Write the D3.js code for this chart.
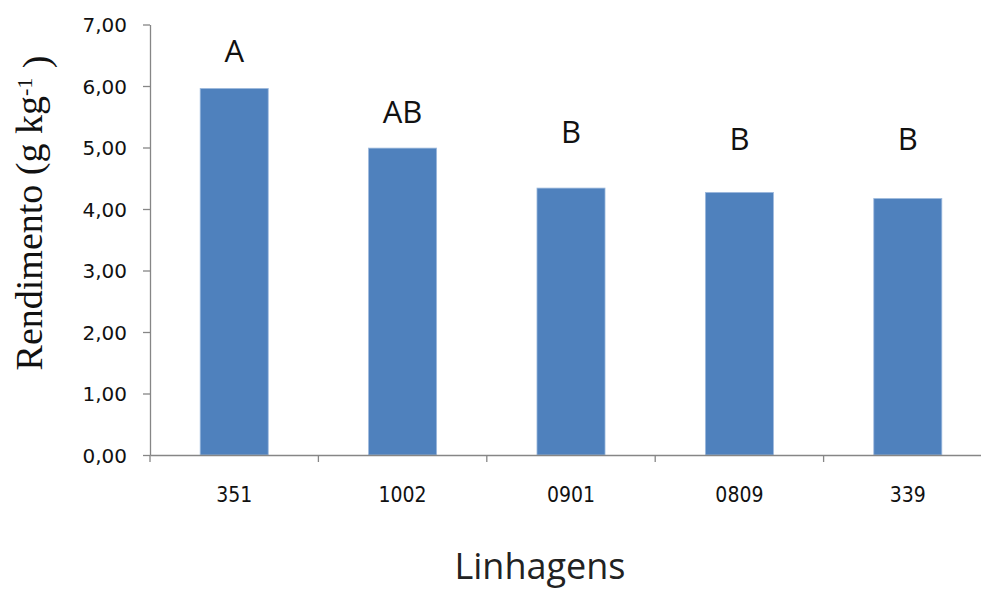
<!DOCTYPE html>
<html><head><meta charset="utf-8">
<script src="https://cdn.jsdelivr.net/npm/d3@7"></script>
<style>body{margin:0;background:#fff}</style>
</head><body>
<svg id="c" width="981" height="589"></svg>
<script>
const categories = ["351", "1002", "0901", "0809", "339"];
const values = [5.96, 4.99, 4.34, 4.27, 4.17];
const letters = ["A", "AB", "B", "B", "B"];
const letterLevel = [6.39, 5.40, 5.07, 4.96, 4.96];
const yTicks = [0, 1, 2, 3, 4, 5, 6, 7];

const svg = d3.select("#c");
const x = d3.scaleBand().domain(categories).range([150, 992]).paddingInner(0.596).paddingOuter(0.298);
const y = d3.scaleLinear().domain([0, 7]).range([455, 24.5]);
const fmt = v => d3.format(".2f")(v).replace(".", ",");

// bars
svg.append("g").selectAll("rect").data(categories).join("rect")
  .attr("x", d => x(d)).attr("width", x.bandwidth())
  .attr("y", (d, i) => y(values[i])).attr("height", (d, i) => y(0) - y(values[i]))
  .attr("fill", "#4F81BD").attr("stroke", "#9DB9DD").attr("stroke-width", 0.8);

// y axis
const ya = svg.append("g").attr("transform", "translate(150,0)")
  .call(d3.axisLeft(y).tickValues(yTicks).tickFormat(fmt).tickSize(7).tickSizeOuter(0));
ya.select(".domain").attr("stroke", "#868686").attr("stroke-width", 1.3);
ya.selectAll(".tick line").attr("stroke", "#868686").attr("stroke-width", 1.3);
ya.selectAll(".tick text").attr("x", -23).attr("dy", "0.36em")
  .style("font-family", "'DejaVu Sans'").style("font-size", "20px").attr("fill", "#111");

// x axis
const xa = svg.append("g").attr("transform", "translate(0,455)")
  .call(d3.axisBottom(x).tickSize(0).tickSizeOuter(0));
xa.select(".domain").attr("stroke", "#868686").attr("stroke-width", 1.3);
xa.selectAll(".tick text").attr("y", 32)
  .style("font-family", "'DejaVu Sans Condensed'").style("font-size", "21px").attr("fill", "#111");
// boundary tick marks
const step = x.step();
const bounds = d3.range(categories.length + 1).map(i => x.range()[0] + i * step);
xa.selectAll("line.bt").data(bounds).join("line").attr("class", "bt")
  .attr("x1", d => d).attr("x2", d => d).attr("y1", 0).attr("y2", 7)
  .attr("stroke", "#868686").attr("stroke-width", 1.3);

// letters
svg.append("g").selectAll("text").data(categories).join("text")
  .attr("x", d => x(d) + x.bandwidth() / 2).attr("y", (d, i) => y(letterLevel[i]))
  .attr("text-anchor", "middle").style("font-family", "'Open Sans'").style("font-size", "31px")
  .attr("fill", "#111").text((d, i) => letters[i]);

// x title
svg.append("text").attr("x", 540).attr("y", 579).attr("text-anchor", "middle")
  .style("font-family", "'Open Sans'").style("font-size", "36px").attr("fill", "#222").text("Linhagens");

// y title
const yt = svg.append("text").attr("transform", "translate(42,213) rotate(-90)").attr("text-anchor", "middle")
  .style("font-family", "'Liberation Serif'").style("font-size", "38px").attr("fill", "#111");
yt.append("tspan").text("Rendimento (g kg");
yt.append("tspan").attr("dy", "-0.45em").style("font-size", "22px").text("-1");
yt.append("tspan").attr("dy", "0.45em").text(" )");
</script>
</body></html>
